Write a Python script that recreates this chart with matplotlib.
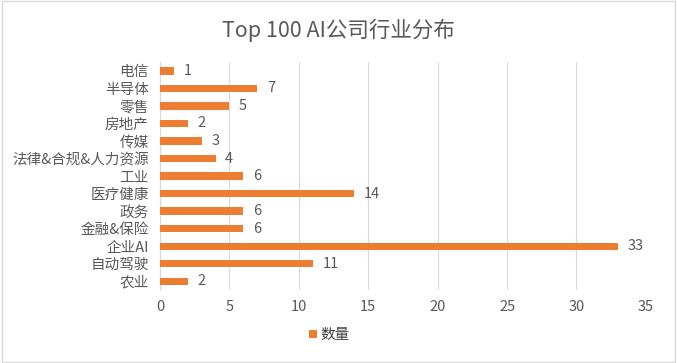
import matplotlib
matplotlib.use("Agg")
import matplotlib.pyplot as plt
from matplotlib.patches import Rectangle

plt.rcParams['font.family'] = ['Noto Sans CJK SC', 'DejaVu Sans']

categories = ["农业", "自动驾驶", "企业AI", "金融&保险", "政务", "医疗健康", "工业",
              "法律&合规&人力资源", "传媒", "房地产", "零售", "半导体", "电信"]
values = [2, 11, 33, 6, 6, 14, 6, 4, 3, 2, 5, 7, 1]
xticks = [0, 5, 10, 15, 20, 25, 30, 35]
title = "Top 100 AI公司行业分布"
series_name = "数量"

bar_color = "#ED7D31"
text_color = "#595959"
grid_color = "#D9D9D9"

fig = plt.figure(figsize=(6.77, 3.63), dpi=100)
fig.patches.append(Rectangle((0.003, 0.003), 0.994, 0.994, transform=fig.transFigure,
                             fill=False, edgecolor="#D9D9D9", linewidth=1))
ax = fig.add_axes([0.2363, 0.201, 0.954 - 0.2363, 0.829 - 0.201])

y = list(range(len(categories)))
bars = ax.barh(y, values, height=0.42, color=bar_color, label=series_name, zorder=3)
for yi, v in zip(y, values):
    ax.text(v + 0.7, yi, str(v), va='center', ha='left', fontsize=10.5, color=text_color)

ax.set_xlim(0, 35)
ax.set_ylim(-0.5, len(categories) - 0.5)
ax.set_xticks(xticks)
ax.set_xticklabels([str(t) for t in xticks])
ax.set_yticks(y)
ax.set_yticklabels(categories)
ax.tick_params(axis='both', length=0, labelsize=10.5, colors=text_color)
ax.tick_params(axis='x', pad=7)
ax.tick_params(axis='y', pad=8)
ax.grid(axis='x', color=grid_color, linewidth=0.8, zorder=0)
for s in ['top', 'right', 'bottom']:
    ax.spines[s].set_visible(False)
ax.spines['left'].set_color(grid_color)
ax.spines['left'].set_linewidth(0.8)

fig.text(0.5, 0.917, title, ha='center', va='center', fontsize=15.5, color=text_color)

leg = fig.legend(handles=[bars], labels=[series_name], loc='center', bbox_to_anchor=(0.487, 0.077),
                 frameon=False, fontsize=10.5, handlelength=0.5, handleheight=0.5, handletextpad=0.3)
for t in leg.get_texts():
    t.set_color("#404040")

fig.savefig("out.png", dpi=100)
